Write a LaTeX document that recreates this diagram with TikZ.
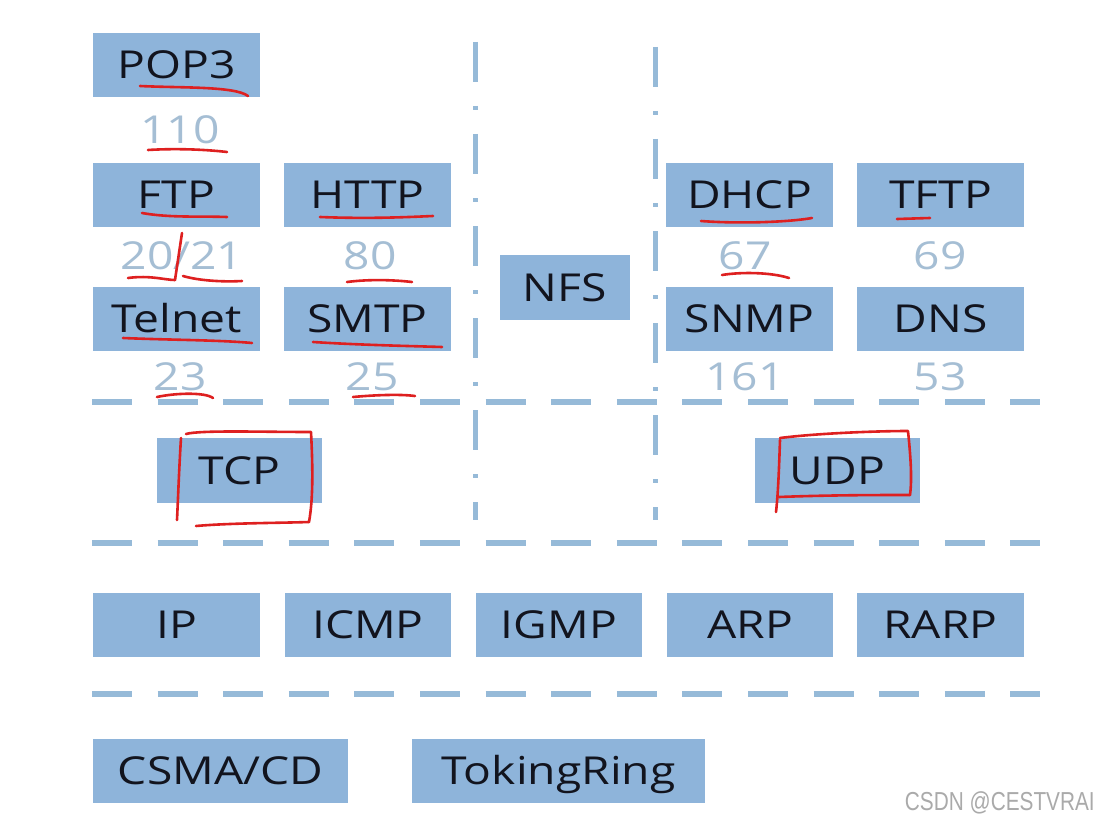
\documentclass[tikz,border=0pt]{standalone}
\usepackage{fontspec}
\newfontfamily\labfont[FakeStretch=1.2]{Open Sans}
\newfontfamily\wmfont[FakeStretch=0.8]{Liberation Sans}
\definecolor{boxblue}{RGB}{142,180,218}
\definecolor{linecol}{RGB}{150,186,216}
\definecolor{numcol}{RGB}{165,190,212}
\definecolor{inkcol}{RGB}{18,20,30}
\definecolor{redink}{RGB}{222,32,32}
\definecolor{wmcol}{RGB}{170,170,170}
\begin{document}
\begin{tikzpicture}[x=1pt,y=-1pt,
  box/.style={fill=boxblue, minimum width=167pt, minimum height=64pt, inner sep=0pt,
    font=\fontsize{38.5}{40}\labfont, text=inkcol, text height=27.5pt, text depth=0pt},
  num/.style={inner sep=0pt, font=\fontsize{38.5}{40}\labfont, text=numcol, text height=27.5pt, text depth=0pt},
  hdash/.style={draw=linecol, line width=6pt, dash pattern=on 40pt off 25.6pt},
  vdash/.style={draw=linecol, line width=5pt, dash pattern=on 40pt off 24pt on 4pt off 24pt},
  redmark/.style={draw=redink, line width=2.6pt, line cap=round, line join=round}]
\useasboundingbox[fill=white] (0,0) rectangle (1100,824);

% application layer, TCP side
\node[box] (pop3) at (176.5,65) {POP3};
\node[num] (n110) at (180,130) {110};
\node[box] (ftp) at (176.5,195) {FTP};
\node[box] (http) at (367.5,195) {HTTP};
\node[num] (n2021) at (182,256) {20/21};
\node[num] (n80) at (370,256) {80};
\node[box] (telnet) at (176.5,319) {Telnet};
\node[box] (smtp) at (367.5,319) {SMTP};
\node[num] (n23) at (180,377) {23};
\node[num] (n25) at (372,377) {25};

% middle
\node[box, minimum width=130pt, minimum height=65pt] (nfs) at (565,287.5) {NFS};

% application layer, UDP side
\node[box] (dhcp) at (749.5,195) {DHCP};
\node[box] (tftp) at (940.5,195) {TFTP};
\node[num] (n67) at (745,256) {67};
\node[num] (n69) at (940,256) {69};
\node[box] (snmp) at (749.5,319) {SNMP};
\node[box] (dns) at (940.5,319) {DNS};
\node[num] (n161) at (745,377) {161};
\node[num] (n53) at (940,377) {53};

% transport layer
\node[box, minimum width=165pt, minimum height=65pt] (tcp) at (239.5,470.5) {TCP};
\node[box, minimum width=165pt, minimum height=65pt] (udp) at (837.5,470.5) {UDP};

% network layer
\node[box] (ip) at (176.5,625) {IP};
\node[box, minimum width=166pt] (icmp) at (368,625) {ICMP};
\node[box, minimum width=166pt] (igmp) at (559,625) {IGMP};
\node[box, minimum width=166pt] (arp) at (750,625) {ARP};
\node[box] (rarp) at (940.5,625) {RARP};

% link layer
\node[box, minimum width=255pt] (csma) at (220.5,771) {CSMA/CD};
\node[box, minimum width=293pt] (token) at (558.5,771) {TokingRing};

% separators
\coordinate (h1a) at (92,402);  \coordinate (h1b) at (1040,402);
\coordinate (h2a) at (92,543);  \coordinate (h2b) at (1040,543);
\coordinate (h3a) at (92,694);  \coordinate (h3b) at (1040,694);
\coordinate (v1a) at (475,42);  \coordinate (v1b) at (475,520);
\coordinate (v2a) at (655,47);  \coordinate (v2b) at (655,520);
\draw[hdash] (h1a) -- (h1b);
\draw[hdash] (h2a) -- (h2b);
\draw[hdash] (h3a) -- (h3b);
\draw[vdash] (v1a) -- (v1b);
\draw[vdash] (v2a) -- (v2b);

% red handwritten marks
\draw[redmark] (140,86) .. controls (180,88) and (235,86) .. (248,96);
\draw[redmark] (148,150) .. controls (180,148) and (210,150) .. (227,152);
\draw[redmark] (142,213) .. controls (170,218) and (200,216) .. (227,217);
\draw[redmark] (320,217) .. controls (370,219) and (410,217) .. (433,216);
\draw[redmark] (182,233) -- (175,280);
\draw[redmark] (128,278) .. controls (150,275) and (165,280) .. (175,280);
\draw[redmark] (183,276) .. controls (200,281) and (225,282) .. (242,281);
\draw[redmark] (347,282) .. controls (370,279) and (395,280) .. (412,282);
\draw[redmark] (123,338) .. controls (170,340) and (220,340) .. (252,343);
\draw[redmark] (313,342) .. controls (360,345) and (410,346) .. (442,347);
\draw[redmark] (157,397) .. controls (175,393) and (205,392) .. (213,398);
\draw[redmark] (353,397) .. controls (375,395) and (400,394) .. (415,396);
\draw[redmark] (701,221) .. controls (740,224) and (790,222) .. (812,218);
\draw[redmark] (897,219) -- (930,218);
\draw[redmark] (722,275) .. controls (740,272) and (770,272) .. (789,278);
\draw[redmark] (181,438) .. controls (179,470) and (178,500) .. (177,520);
\draw[redmark] (186,434) .. controls (200,430) and (260,432) .. (311,432)
   .. controls (313,470) and (313,500) .. (309,522);
\draw[redmark] (196,526) .. controls (230,523) and (280,523) .. (309,522);
\draw[redmark] (780,440) .. controls (779,470) and (778,495) .. (776,512);
\draw[redmark] (780,438) .. controls (820,433) and (880,431) .. (908,431)
   .. controls (911,460) and (912,480) .. (910,495);
\draw[redmark] (779,497) .. controls (830,495) and (880,495) .. (910,495);

% watermark
\node[inner sep=0pt, anchor=east, font=\fontsize{26}{28}\wmfont, text=wmcol] (wm) at (1095,803) {CSDN @CESTVRAI};
\end{tikzpicture}
\end{document}
